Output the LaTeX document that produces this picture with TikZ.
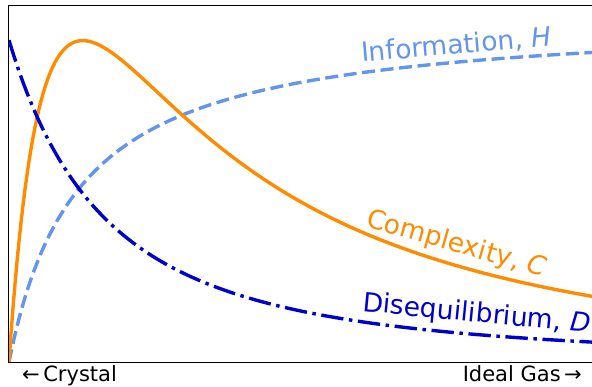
\documentclass[tikz,border=0pt]{standalone}
\usepackage{fontspec}
\setmainfont{DejaVu Sans}
\definecolor{infoblue}{RGB}{100,149,237}
\definecolor{cplxorange}{RGB}{255,140,0}
\definecolor{diseqblue}{RGB}{0,0,205}
\newcommand{\lblsize}{\fontsize{26.5}{30}\selectfont}
\newcommand{\axsize}{\fontsize{21}{25}\selectfont}

\begin{document}
\begin{tikzpicture}[x=1pt,y=1pt,curve/.style={line width=3.4pt},info/.style={curve,color=infoblue,dash pattern=on 13pt off 5.6pt},cplx/.style={curve,color=cplxorange},diseq/.style={curve,color=diseqblue,dash pattern=on 22.4pt off 5.6pt on 3.5pt off 5.6pt},lbl/.style={font=\lblsize,anchor=base west,inner sep=0pt},axlbl/.style={font=\axsize,inner sep=0pt}]
    \useasboundingbox (-9,-24) rectangle (583,362);
    \begin{scope}
      \clip (0,0) rectangle (583,356);
      \draw[info] plot[domain=0:600,samples=240] (\x,{346.7*(\x/(\x+70))});
      \draw[cplx] plot[domain=0:600,samples=300] (\x,{321.8*(\x/74)*(222/(\x+148))^3*(1-0.075*(\x/583)^2)});
      \draw[diseq] plot[domain=0:600,samples=240] (\x,{321.8/((1+\x/193)^2)});
    \end{scope}
    \draw[line width=1pt] (583,356) -- (0,356) -- (0,0) -- (583,0);
    \node[lbl,color=infoblue,rotate=5] (infolbl) at (353,300) {Information, \textit{H}};
    \node[lbl,color=cplxorange,rotate=-16] (cplxlbl) at (356,136) {Complexity, \textit{C}};
    \node[lbl,color=diseqblue,rotate=-5.5] (diseqlbl) at (353,51) {Disequilibrium, \textit{D}};
    \node[axlbl,anchor=base west] (crystal) at (13,-19.7) {←\,Crystal};
    \node[axlbl,anchor=base east] (gas) at (573,-19.7) {Ideal Gas\,→};
\end{tikzpicture}
\end{document}
